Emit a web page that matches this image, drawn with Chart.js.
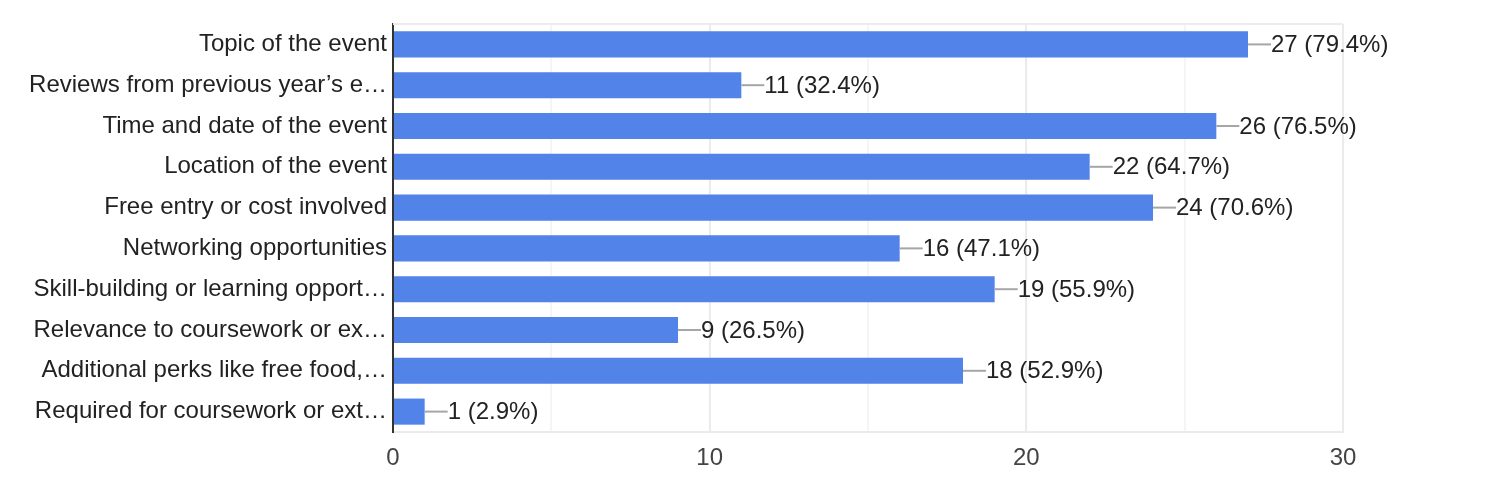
<!DOCTYPE html>
<html>
<head>
<meta charset="utf-8">
<script src="https://cdn.jsdelivr.net/npm/chart.js@4/dist/chart.umd.min.js"></script>
<style>
    html, body { margin: 0; padding: 0; background: #fff; }
    #wrap { width: 1504px; height: 496px; position: relative; }
</style>
</head>
<body>
<div id="wrap"><canvas id="myChart"></canvas></div>
<script>
// Chart data
const categories = [
    "Topic of the event",
    "Reviews from previous year\u2019s e\u2026",
    "Time and date of the event",
    "Location of the event",
    "Free entry or cost involved",
    "Networking opportunities",
    "Skill-building or learning opport\u2026",
    "Relevance to coursework or ex\u2026",
    "Additional perks like free food,\u2026",
    "Required for coursework or ext\u2026"
];
const counts = [27, 11, 26, 22, 24, 16, 19, 9, 18, 1];
const percents = ["79.4%", "32.4%", "76.5%", "64.7%", "70.6%", "47.1%", "55.9%", "26.5%", "52.9%", "2.9%"];
const xTicks = [0, 10, 20, 30];

const fontFamily = '"Liberation Sans", Arial, Helvetica, sans-serif';

// draws the leader line + "n (p%)" after each bar
const valueLabels = {
    id: "valueLabels",
    afterDatasetsDraw(chart) {
        const ctx = chart.ctx;
        const meta = chart.getDatasetMeta(0);
        ctx.save();
        ctx.font = "24px " + fontFamily;
        ctx.textBaseline = "middle";
        ctx.textAlign = "left";
        meta.data.forEach((bar, i) => {
            ctx.strokeStyle = "#a6a6a6";
            ctx.lineWidth = 2;
            ctx.beginPath();
            ctx.moveTo(bar.x, bar.y);
            ctx.lineTo(bar.x + 23, bar.y);
            ctx.stroke();
            ctx.fillStyle = "#222222";
            ctx.fillText(counts[i] + " (" + percents[i] + ")", bar.x + 23, bar.y + 1);
        });
        ctx.restore();
    }
};

// light frame line along the top of the plot
const topBorder = {
    id: "topBorder",
    beforeDatasetsDraw(chart) {
        const { ctx, chartArea } = chart;
        ctx.save();
        ctx.strokeStyle = "#ececec";
        ctx.lineWidth = 2;
        ctx.beginPath();
        ctx.moveTo(chartArea.left, chartArea.top);
        ctx.lineTo(chartArea.right, chartArea.top);
        ctx.stroke();
        ctx.restore();
    }
};

const data = {
    labels: categories,
    datasets: [{
        label: "Responses",
        data: counts,
        backgroundColor: "#5183e9",
        borderWidth: 0,
        categoryPercentage: 1,
        barPercentage: 0.64
    }]
};

const config = {
    type: "bar",
    data: data,
    options: {
        indexAxis: "y",
        responsive: true,
        maintainAspectRatio: false,
        animation: false,
        layout: {
            padding: { top: 24, right: 161, bottom: 0, left: 0 }
        },
        plugins: {
            legend: { display: false },
            tooltip: { enabled: false }
        },
        scales: {
            x: {
                min: 0,
                max: 30,
                afterFit: (scale) => { scale.height = 64; },
                ticks: {
                    stepSize: 5,
                    padding: 12,
                    color: "#444444",
                    font: { family: fontFamily, size: 24 },
                    callback: (v) => xTicks.includes(v) ? String(v) : ""
                },
                grid: {
                    drawTicks: false,
                    lineWidth: 2,
                    color: (c) => (c.tick && c.tick.value % 10 === 0) ? "#ebebeb" : "#f5f5f5"
                },
                border: { display: true, color: "#ebebeb", width: 2 }
            },
            y: {
                afterFit: (scale) => { scale.width = 393; },
                ticks: {
                    padding: 6,
                    color: "#222222",
                    font: { family: fontFamily, size: 24 }
                },
                grid: { display: false, drawTicks: false },
                border: { display: true, color: "#333333", width: 2 }
            }
        }
    },
    plugins: [topBorder, valueLabels]
};

const myChart = new Chart(document.getElementById("myChart"), config);
</script>
</body>
</html>
